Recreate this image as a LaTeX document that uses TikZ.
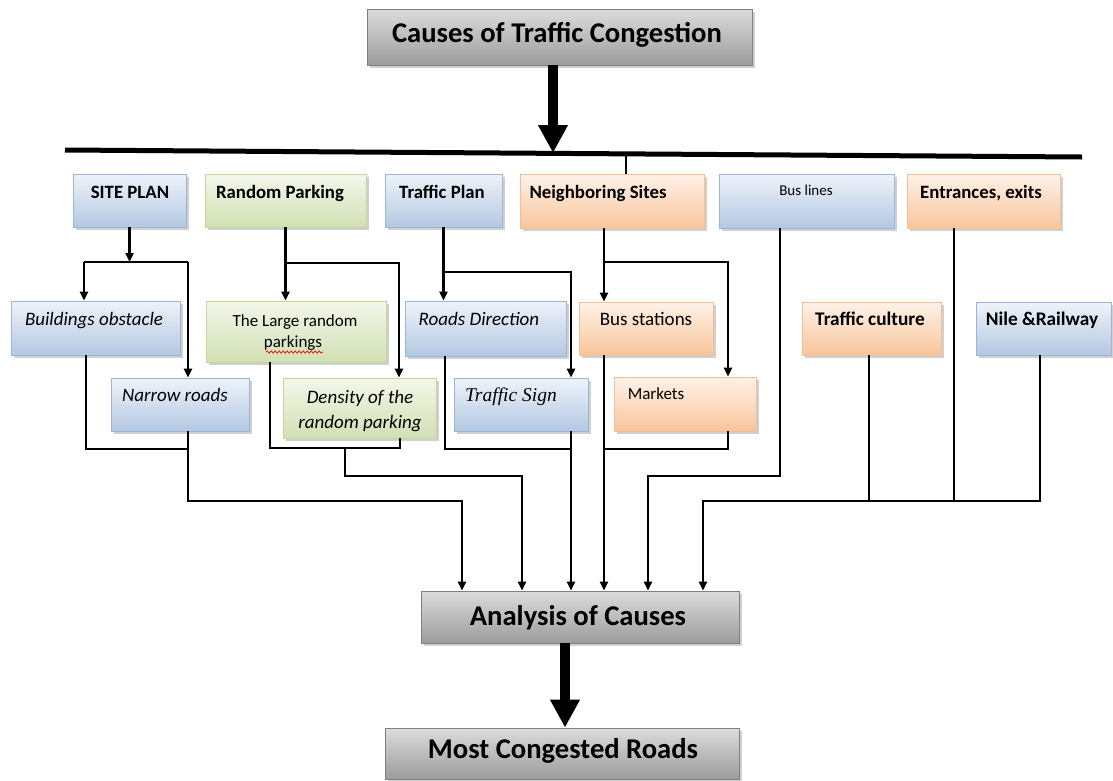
\documentclass[tikz,border=0pt]{standalone}
\usepackage{fontspec}
\setmainfont{Carlito}
\newfontfamily\signfont{Liberation Serif}
\usetikzlibrary{arrows.meta,shadows,decorations.pathmorphing}
\definecolor{bluetop}{HTML}{EEF3FA}
\definecolor{bluebot}{HTML}{B4C8E2}
\definecolor{blueline}{HTML}{9DB5D5}
\definecolor{greentop}{HTML}{F3F7EA}
\definecolor{greenbot}{HTML}{D2E0B4}
\definecolor{greenline}{HTML}{C3D69B}
\definecolor{orantop}{HTML}{FEF2E8}
\definecolor{oranbot}{HTML}{F9C59C}
\definecolor{oranline}{HTML}{F3BE92}
\definecolor{greytop}{HTML}{DCDCDC}
\definecolor{greymid}{HTML}{F2F2F2}
\definecolor{greybot}{HTML}{9C9C9C}
\definecolor{greyline}{HTML}{7F7F7F}
\begin{document}
\begin{tikzpicture}[x=1pt,y=-1pt,
  sh/.style={drop shadow={shadow xshift=2.5pt,shadow yshift=-2.5pt,opacity=0.3,fill=black!60}},
  boxbase/.style={rectangle,inner sep=0pt,line width=0.8pt,sh},
  bluebox/.style={boxbase,draw=blueline,top color=bluetop,bottom color=bluebot},
  greenbox/.style={boxbase,draw=greenline,top color=greentop,bottom color=greenbot},
  oranbox/.style={boxbase,draw=oranline,top color=orantop,bottom color=oranbot},
  greybox/.style={boxbase,draw=greyline,top color=greytop,middle color=greymid,bottom color=greybot},
  lbl/.style={inner sep=0pt,anchor=base},
  bt/.style={lbl,font=\fontsize{18.8}{22}\selectfont\bfseries},
  bt2/.style={lbl,font=\fontsize{19.3}{22}\selectfont\bfseries},
  it/.style={lbl,font=\fontsize{19}{22}\selectfont\itshape},
  rg/.style={lbl,font=\fontsize{17}{20}\selectfont},
  rg2/.style={lbl,font=\fontsize{19}{22}\selectfont},
  sm/.style={lbl,font=\fontsize{15}{18}\selectfont},
  big/.style={lbl,font=\fontsize{28.6}{32}\selectfont\bfseries},
  ln/.style={line width=2.3pt,black},
  arr/.style={ln,-{Triangle[length=9pt,width=8pt]}},
  bigarr/.style={line width=10pt,black,-{Triangle[length=28pt,width=28pt]}},
]
\useasboundingbox[fill=white] (0,0) rectangle (1113,780);

% main boxes
\node[greybox,minimum width=385pt,minimum height=56pt] (title) at (559.5,37) {};
\node[greybox,minimum width=318pt,minimum height=52pt] (analysis) at (580,617) {};
\node[greybox,minimum width=354pt,minimum height=51pt] (most) at (562,753.5) {};

% first row
\node[bluebox,minimum width=113pt,minimum height=53pt] (siteplan) at (129.5,200.5) {};
\node[greenbox,minimum width=161pt,minimum height=53pt] (randpark) at (285.5,200.5) {};
\node[bluebox,minimum width=117pt,minimum height=53pt] (trafplan) at (443.5,200.5) {};
\node[oranbox,minimum width=184pt,minimum height=54pt] (neigh) at (612,201) {};
\node[bluebox,minimum width=175pt,minimum height=54pt] (buslines) at (806.5,201) {};
\node[oranbox,minimum width=153pt,minimum height=54pt] (entr) at (983.5,201) {};

% second row
\node[bluebox,minimum width=169pt,minimum height=54pt] (bobst) at (95.5,328) {};
\node[greenbox,minimum width=180pt,minimum height=61pt] (large) at (296,331.5) {};
\node[bluebox,minimum width=161pt,minimum height=55pt] (rdir) at (485.5,328.5) {};
\node[oranbox,minimum width=134pt,minimum height=53pt] (busst) at (646,328.5) {};
\node[oranbox,minimum width=139pt,minimum height=53pt] (culture) at (871.5,328.5) {};
\node[bluebox,minimum width=135pt,minimum height=53pt] (nile) at (1043.5,328.5) {};

% third row
\node[bluebox,minimum width=138pt,minimum height=53pt] (narrow) at (180,404.5) {};
\node[greenbox,minimum width=153pt,minimum height=60pt] (density) at (359.5,408) {};
\node[bluebox,minimum width=134pt,minimum height=53pt] (tsign) at (521,404.5) {};
\node[oranbox,minimum width=142pt,minimum height=54pt] (markets) at (685,404) {};

% labels
\node[big] (t-title) at (557,42) {Causes of Traffic Congestion};
\node[big] (t-analysis) at (578,625) {Analysis of Causes};
\node[big] (t-most) at (563,758) {Most Congested Roads};
\node[bt] (t-siteplan) at (130,198) {SITE PLAN};
\node[bt] (t-randpark) at (280,198) {Random Parking};
\node[bt] (t-trafplan) at (442,198) {Traffic Plan};
\node[bt] (t-neigh) at (598,198) {Neighboring Sites};
\node[sm] (t-buslines) at (806,195) {Bus lines};
\node[bt] (t-entr) at (981,198) {Entrances, exits};
\node[it] (t-bobst) at (94,325) {Buildings obstacle};
\node[rg] (t-large1) at (295,326) {The Large random};
\node[rg] (t-large2) at (293,347) {parkings};
\node[it] (t-rdir) at (479,325) {Roads Direction};
\node[rg2] (t-busst) at (646,325) {Bus stations};
\node[bt2] (t-culture) at (870,325) {Traffic culture};
\node[bt2] (t-nile) at (1042,325) {Nile \&Railway};
\node[it] (t-narrow) at (175,401) {Narrow roads};
\node[it] (t-density1) at (360,403) {Density of the};
\node[it] (t-density2) at (360,428) {random parking};
\node[lbl,font=\fontsize{19.5}{22}\selectfont\signfont\itshape] (t-tsign) at (511,401) {Traffic Sign};
\node[rg] (t-markets) at (656,399) {Markets};
\draw[red,line width=0.7pt,decorate,decoration={snake,amplitude=1.2pt,segment length=4pt}] (266,352) -- (323,352);

% bar and big arrows
\coordinate (barL) at (65,150);
\coordinate (barR) at (1082,157);
\coordinate (barhit) at (553,153);
\coordinate (tick) at (626,155);
\draw[line width=5pt] (barL) -- (barR);
\draw[bigarr] ([xshift=-6.5pt]title.south) -- (barhit);
\draw[line width=2.5pt] (tick) -- (tick |- neigh.north);
\draw[bigarr] ([xshift=-15pt]analysis.south) -- ([xshift=3pt]most.north);

% SITE PLAN branch
\coordinate (sp) at (129.5,262);
\coordinate (spL) at (84,262);
\coordinate (spR) at (188,262);
\draw[arr] (siteplan.south) -- (sp);
\draw[ln] (spL) -- (spR);
\draw[arr] (spL) -- (spL |- bobst.north);
\draw[arr] (spR) -- (spR |- narrow.north);

% Random Parking branch
\coordinate (rpA) at (285.5,263);
\coordinate (rpB) at (399,263);
\draw[arr] (randpark.south) -- (rpA |- large.north);
\draw[arr] (rpA) -- (rpB) -- (rpB |- density.north);

% Traffic Plan branch
\coordinate (tpA) at (443.5,272);
\coordinate (tpB) at (571,272);
\draw[arr] (trafplan.south) -- (tpA |- rdir.north);
\draw[arr] (tpA) -- (tpB) -- (tpB |- tsign.north);

% Neighboring Sites branch
\coordinate (nsA) at (604,262);
\coordinate (nsB) at (728,262);
\draw[arr] (nsA |- neigh.south) -- (nsA |- busst.north);
\draw[arr] (nsA) -- (nsB) -- (nsB |- markets.north);

% merges to Analysis
\coordinate (b1) at (86,449);
\coordinate (b2) at (188,449);
\coordinate (b3) at (188,501);
\coordinate (a1) at (462,501);
\draw[ln] (b1 |- bobst.south) -- (b1) -- (b2);
\draw[arr] (b2 |- narrow.south) -- (b3) -- (a1) -- (a1 |- analysis.north);

\coordinate (c1) at (270,448);
\coordinate (c2) at (400,448);
\coordinate (c3) at (345,448);
\coordinate (c4) at (345,476);
\coordinate (a2) at (522,476);
\draw[ln] (c1 |- large.south) -- (c1) -- (c2) -- (c2 |- density.south);
\draw[arr] (c3) -- (c4) -- (a2) -- (a2 |- analysis.north);

\coordinate (d1) at (445,449);
\coordinate (d2) at (571,449);
\draw[ln] (d1 |- rdir.south) -- (d1) -- (d2);
\draw[arr] (d2 |- tsign.south) -- (d2 |- analysis.north);

\coordinate (e1) at (604,449);
\coordinate (e2) at (728,449);
\draw[arr] (e1 |- busst.south) -- (e1 |- analysis.north);
\draw[ln] (e2 |- markets.south) -- (e2) -- (e1);

\coordinate (f1) at (780,476);
\coordinate (f2) at (648,476);
\draw[arr] (f1 |- buslines.south) -- (f1) -- (f2) -- (f2 |- analysis.north);

\coordinate (g1) at (1040,501);
\coordinate (g2) at (954,501);
\coordinate (g3) at (869,501);
\coordinate (g4) at (703,501);
\draw[ln] (g3 |- culture.south) -- (g3);
\draw[ln] (g2 |- entr.south) -- (g2);
\draw[arr] (g1 |- nile.south) -- (g1) -- (g4) -- (g4 |- analysis.north);
\end{tikzpicture}
\end{document}
